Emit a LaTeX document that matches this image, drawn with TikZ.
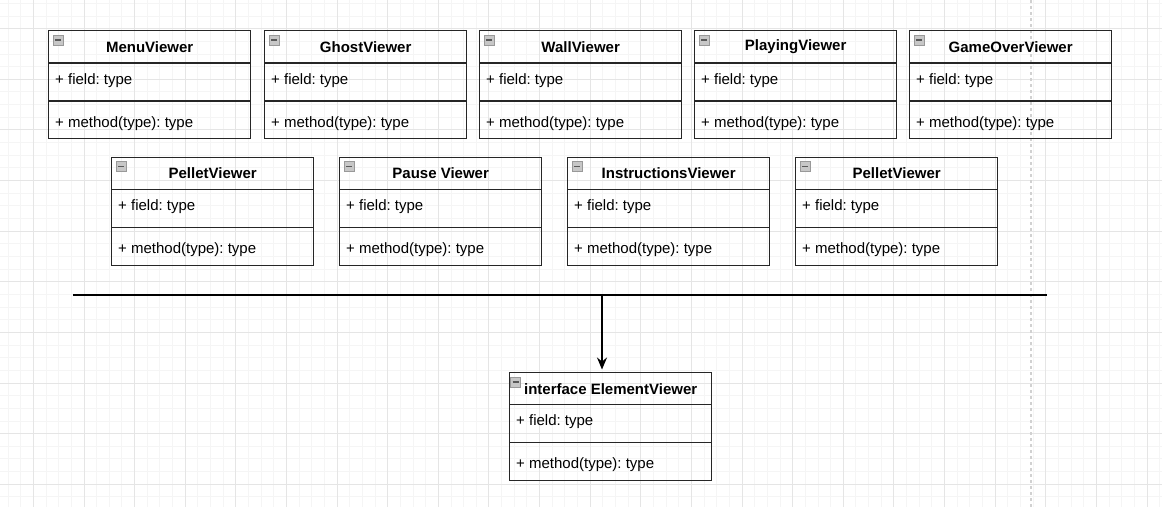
\documentclass[tikz,border=0pt]{standalone}
\usepackage{fontspec}
\setmainfont{Liberation Sans}
\frenchspacing
\usetikzlibrary{arrows.meta,positioning,calc}
\tikzset{
  mingrid/.style = { draw=black!4, line width=0.8pt },
  majgrid/.style = { draw=black!10, line width=0.8pt },
  pageln/.style  = { draw=black!18, line width=1.5pt, dash pattern=on 3pt off 3pt },
  clsbox/.style  = { draw=black!85, line width=1.3pt, minimum width=202pt,
    minimum height=108pt, inner sep=0pt, anchor=north west },
  clsln/.style   = { draw=black!85, line width=1.3pt },
  clsttl/.style  = { font=\fontsize{15}{18}\selectfont\bfseries, inner sep=0pt },
  clstxt/.style  = { font=\fontsize{15}{18}\selectfont, inner sep=0pt, anchor=west },
  clsicon/.style = { draw=black!40, fill=black!22, minimum size=10pt, inner sep=0pt,
    path picture={\draw[line width=1.3pt, black!65]
      ([xshift=2pt]path picture bounding box.west) --
      ([xshift=-2pt]path picture bounding box.east);} },
  bus/.style     = { draw=black, line width=1.3pt }
}
% one class box: name, left x, top y, title
\newcommand{\umlclass}[4]{%
  \node[clsbox] (#1) at (#2,#3) {};
  \draw[clsln] ([yshift=-33pt]#1.north west) -- ([yshift=-33pt]#1.north east);
  \draw[clsln] ([yshift=-71pt]#1.north west) -- ([yshift=-71pt]#1.north east);
  \node[clsttl] (#1-t) at ([yshift=-17pt]#1.north) {#4};
  \node[clsicon] (#1-i) at ([xshift=10pt,yshift=-10pt]#1.north west) {};
  \node[clstxt] (#1-f) at ([xshift=7pt,yshift=-50.5pt]#1.north west) {+ field: type};
  \node[clstxt] (#1-m) at ([xshift=7pt,yshift=-93.5pt]#1.north west) {+ method(type): type};
}
\begin{document}
\begin{tikzpicture}[x=1pt,y=-1pt]
  \useasboundingbox (0,0) rectangle (1162,507);
  % grid
  \foreach \i in {0,...,91} \draw[mingrid] ({8+12.655*\i},0) -- ({8+12.655*\i},507);
  \foreach \i in {0,...,40} \draw[mingrid] (0,{3.3+12.655*\i}) -- (1162,{3.3+12.655*\i});
  \foreach \i in {0,...,22} \draw[majgrid] ({33.3+50.62*\i},0) -- ({33.3+50.62*\i},507);
  \foreach \i in {0,...,10} \draw[majgrid] (0,{28.6+50.62*\i}) -- (1162,{28.6+50.62*\i});
  \coordinate (pgT) at (1031,0);
  \coordinate (pgB) at (1031,507);
  \draw[pageln] (pgT) -- (pgB);

  % first row
  \foreach \nm/\lx/\ttl in {menu/48/MenuViewer, ghost/264/GhostViewer,
      wall/479/WallViewer, playing/694/PlayingViewer, gameover/909/GameOverViewer}
    \umlclass{\nm}{\lx}{30}{\ttl};
  % second row
  \foreach \nm/\lx/\ttl in {pelletA/111/PelletViewer, pause/339/Pause Viewer,
      instr/567/InstructionsViewer, pelletB/795/PelletViewer}
    \umlclass{\nm}{\lx}{156.5}{\ttl};

  % interface
  \node[clsbox] (ev) at (509,371.5) {};
  \draw[clsln] ([yshift=-33pt]ev.north west) -- ([yshift=-33pt]ev.north east);
  \draw[clsln] ([yshift=-71pt]ev.north west) -- ([yshift=-71pt]ev.north east);
  \node[clsttl] (ev-t) at ([yshift=-17.5pt]ev.north) {interface ElementViewer};
  \node[clsicon] (ev-i) at ([xshift=6.5pt,yshift=-10.5pt]ev.north west) {};
  \node[clstxt] (ev-f) at ([xshift=7pt,yshift=-50.5pt]ev.north west) {+ field: type};
  \node[clstxt] (ev-m) at ([xshift=7pt,yshift=-93.5pt]ev.north west) {+ method(type): type};

  % bus line and arrow
  \coordinate (busL) at (73,295);
  \coordinate (busR) at (1047,295);
  \coordinate (busM) at (602,295);
  \draw[bus] (busL) -- (busR);
  \draw[bus, -{Stealth[length=12pt,width=10pt,inset=4pt]}] (busM) -- ([yshift=2pt]busM |- ev.north);
\end{tikzpicture}
\end{document}
